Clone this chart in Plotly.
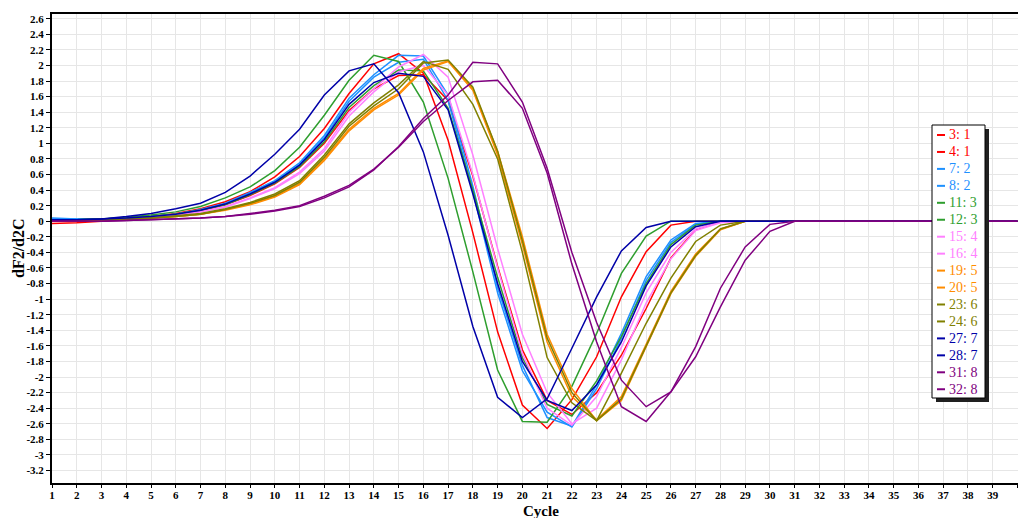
import plotly.graph_objects as go

cycles = [1, 2, 3, 4, 5, 6, 7, 8, 9, 10, 11, 12, 13, 14, 15, 16, 17, 18, 19, 20,
          21, 22, 23, 24, 25, 26, 27, 28, 29, 30, 31, 32, 33, 34, 35, 36, 37, 38, 39, 40]

s3_1 = [-0.03, -0.02, 0.0, 0.03, 0.06, 0.10, 0.16, 0.25, 0.38, 0.57, 0.83, 1.19, 1.64, 2.02, 2.15, 1.90, 1.04, -0.15, -1.42, -2.36,
        -2.66, -2.29, -1.74, -0.97, -0.39, -0.05, 0.0, 0.0, 0.0, 0.0, 0.0, 0.0, 0.0, 0.0, 0.0, 0.0, 0.0, 0.0, 0.0, 0.0]
s4_1 = [0.0, 0.01, 0.02, 0.03, 0.05, 0.08, 0.13, 0.21, 0.33, 0.48, 0.69, 1.00, 1.42, 1.70, 1.87, 1.88, 1.55, 0.58, -0.58, -1.65,
        -2.30, -2.48, -2.20, -1.72, -1.12, -0.47, -0.11, 0.0, 0.0, 0.0, 0.0, 0.0, 0.0, 0.0, 0.0, 0.0, 0.0, 0.0, 0.0, 0.0]
s7_2 = [0.04, 0.03, 0.03, 0.04, 0.06, 0.09, 0.15, 0.23, 0.37, 0.52, 0.75, 1.10, 1.58, 1.88, 2.13, 2.12, 1.62, 0.45, -0.85, -1.85,
        -2.52, -2.63, -2.10, -1.44, -0.71, -0.24, -0.03, 0.0, 0.0, 0.0, 0.0, 0.0, 0.0, 0.0, 0.0, 0.0, 0.0, 0.0, 0.0, 0.0]
s8_2 = [0.03, 0.03, 0.03, 0.04, 0.06, 0.09, 0.14, 0.22, 0.36, 0.51, 0.73, 1.07, 1.54, 1.85, 2.04, 2.08, 1.55, 0.38, -0.92, -1.92,
        -2.45, -2.64, -2.15, -1.50, -0.76, -0.27, -0.04, 0.0, 0.0, 0.0, 0.0, 0.0, 0.0, 0.0, 0.0, 0.0, 0.0, 0.0, 0.0, 0.0]
s11_3 = [0.01, 0.02, 0.03, 0.05, 0.08, 0.12, 0.19, 0.30, 0.44, 0.65, 0.95, 1.36, 1.81, 2.13, 2.05, 1.53, 0.55, -0.65, -1.91, -2.57,
         -2.58, -2.12, -1.44, -0.67, -0.19, 0.0, 0.0, 0.0, 0.0, 0.0, 0.0, 0.0, 0.0, 0.0, 0.0, 0.0, 0.0, 0.0, 0.0, 0.0]
s12_3 = [0.02, 0.02, 0.03, 0.04, 0.06, 0.09, 0.14, 0.21, 0.34, 0.49, 0.70, 1.02, 1.46, 1.74, 1.94, 1.93, 1.45, 0.40, -0.72, -1.75,
         -2.35, -2.50, -2.05, -1.48, -0.80, -0.30, -0.05, 0.0, 0.0, 0.0, 0.0, 0.0, 0.0, 0.0, 0.0, 0.0, 0.0, 0.0, 0.0, 0.0]
s15_4 = [0.02, 0.02, 0.02, 0.03, 0.05, 0.08, 0.12, 0.19, 0.30, 0.43, 0.63, 0.93, 1.40, 1.70, 1.98, 2.14, 1.85, 0.85, -0.35, -1.45,
         -2.20, -2.60, -2.40, -1.78, -1.05, -0.48, -0.12, -0.02, 0.0, 0.0, 0.0, 0.0, 0.0, 0.0, 0.0, 0.0, 0.0, 0.0, 0.0, 0.0]
s16_4 = [0.02, 0.02, 0.02, 0.03, 0.05, 0.08, 0.12, 0.18, 0.29, 0.42, 0.61, 0.90, 1.35, 1.66, 1.92, 2.00, 1.62, 0.60, -0.60, -1.70,
         -2.40, -2.62, -2.25, -1.62, -0.92, -0.40, -0.10, -0.01, 0.0, 0.0, 0.0, 0.0, 0.0, 0.0, 0.0, 0.0, 0.0, 0.0, 0.0, 0.0]
s19_5 = [0.01, 0.01, 0.02, 0.02, 0.04, 0.06, 0.09, 0.15, 0.22, 0.32, 0.48, 0.80, 1.18, 1.45, 1.64, 1.96, 2.06, 1.70, 0.90, -0.20,
         -1.45, -2.15, -2.56, -2.30, -1.61, -0.93, -0.45, -0.11, 0.0, 0.0, 0.0, 0.0, 0.0, 0.0, 0.0, 0.0, 0.0, 0.0, 0.0, 0.0]
s20_5 = [0.01, 0.01, 0.02, 0.02, 0.04, 0.06, 0.09, 0.14, 0.21, 0.31, 0.47, 0.78, 1.16, 1.43, 1.62, 1.94, 2.05, 1.68, 0.85, -0.30,
         -1.55, -2.25, -2.55, -2.25, -1.58, -0.90, -0.42, -0.10, 0.0, 0.0, 0.0, 0.0, 0.0, 0.0, 0.0, 0.0, 0.0, 0.0, 0.0, 0.0]
s23_6 = [0.01, 0.01, 0.02, 0.03, 0.04, 0.07, 0.10, 0.16, 0.24, 0.35, 0.52, 0.85, 1.25, 1.52, 1.75, 2.05, 1.95, 1.50, 0.80, -0.40,
         -1.75, -2.33, -2.56, -1.95, -1.31, -0.73, -0.26, -0.05, 0.0, 0.0, 0.0, 0.0, 0.0, 0.0, 0.0, 0.0, 0.0, 0.0, 0.0, 0.0]
s24_6 = [0.01, 0.01, 0.02, 0.02, 0.04, 0.06, 0.09, 0.15, 0.23, 0.33, 0.50, 0.82, 1.22, 1.48, 1.70, 2.03, 2.07, 1.72, 0.90, -0.25,
         -1.50, -2.20, -2.56, -2.28, -1.60, -0.92, -0.44, -0.10, 0.0, 0.0, 0.0, 0.0, 0.0, 0.0, 0.0, 0.0, 0.0, 0.0, 0.0, 0.0]
s27_7 = [0.01, 0.02, 0.03, 0.06, 0.10, 0.16, 0.23, 0.37, 0.58, 0.86, 1.18, 1.62, 1.93, 2.02, 1.65, 0.89, -0.18, -1.35, -2.26, -2.52,
         -2.28, -1.63, -0.97, -0.38, -0.08, 0.0, 0.0, 0.0, 0.0, 0.0, 0.0, 0.0, 0.0, 0.0, 0.0, 0.0, 0.0, 0.0, 0.0, 0.0]
s28_7 = [0.02, 0.02, 0.03, 0.04, 0.06, 0.09, 0.14, 0.22, 0.35, 0.50, 0.72, 1.05, 1.50, 1.78, 1.90, 1.86, 1.43, 0.35, -0.80, -1.80,
         -2.30, -2.43, -2.10, -1.55, -0.83, -0.33, -0.07, 0.0, 0.0, 0.0, 0.0, 0.0, 0.0, 0.0, 0.0, 0.0, 0.0, 0.0, 0.0, 0.0]
s31_8 = [0.0, 0.0, 0.0, 0.01, 0.02, 0.03, 0.04, 0.06, 0.09, 0.13, 0.19, 0.30, 0.44, 0.66, 0.96, 1.32, 1.62, 2.04, 2.02, 1.53,
         0.68, -0.40, -1.30, -2.04, -2.38, -2.19, -1.61, -0.86, -0.33, -0.04, 0.0, 0.0, 0.0, 0.0, 0.0, 0.0, 0.0, 0.0, 0.0, 0.0]
s32_8 = [0.0, 0.0, 0.0, 0.01, 0.02, 0.03, 0.04, 0.06, 0.10, 0.14, 0.20, 0.32, 0.46, 0.67, 0.95, 1.28, 1.55, 1.79, 1.81, 1.45,
         0.62, -0.55, -1.55, -2.38, -2.57, -2.19, -1.74, -1.10, -0.50, -0.13, 0.0, 0.0, 0.0, 0.0, 0.0, 0.0, 0.0, 0.0, 0.0, 0.0]

series_names = ["3: 1", "4: 1", "7: 2", "8: 2", "11: 3", "12: 3", "15: 4", "16: 4",
                "19: 5", "20: 5", "23: 6", "24: 6", "27: 7", "28: 7", "31: 8", "32: 8"]
series_values = [s3_1, s4_1, s7_2, s8_2, s11_3, s12_3, s15_4, s16_4,
                 s19_5, s20_5, s23_6, s24_6, s27_7, s28_7, s31_8, s32_8]
series_colors = ["#ff0000", "#ff0000", "#1e90ff", "#1e90ff", "#2e9e2e", "#2e9e2e", "#ff80ff", "#ff80ff",
                 "#ff8c00", "#ff8c00", "#808000", "#808000", "#0000a8", "#0000a8", "#800080", "#800080"]

y_tick_vals = [-3.2, -3.0, -2.8, -2.6, -2.4, -2.2, -2.0, -1.8, -1.6, -1.4, -1.2, -1.0, -0.8, -0.6, -0.4, -0.2,
               0.0, 0.2, 0.4, 0.6, 0.8, 1.0, 1.2, 1.4, 1.6, 1.8, 2.0, 2.2, 2.4, 2.6]
y_tick_text = ["-3.2", "-3", "-2.8", "-2.6", "-2.4", "-2.2", "-2", "-1.8", "-1.6", "-1.4", "-1.2", "-1", "-0.8", "-0.6",
               "-0.4", "-0.2", "0", "0.2", "0.4", "0.6", "0.8", "1", "1.2", "1.4", "1.6", "1.8", "2", "2.2", "2.4", "2.6"]

SERIF = "Liberation Serif, Times New Roman, serif"

W, H = 1018, 518
ML, MR, MT, MB = 52, 0, 14, 35
PW, PH = W - ML - MR, H - MT - MB


def px_x(px):
    return (px - ML) / PW


def px_y(py):
    return (H - MB - py) / PH


fig = go.Figure()
for name, vals, color in zip(series_names, series_values, series_colors):
    fig.add_trace(go.Scatter(x=cycles, y=vals, mode="lines", name=name,
                             line=dict(color=color, width=1.5), showlegend=False,
                             hoverinfo="x+y+name"))

shapes = []
annotations = []

# custom legend box with shadow
shapes.append(dict(type="rect", xref="paper", yref="paper", layer="above",
                   x0=px_x(936), x1=px_x(989), y0=px_y(402), y1=px_y(129),
                   fillcolor="#202020", line=dict(width=0)))
shapes.append(dict(type="rect", xref="paper", yref="paper", layer="above",
                   x0=px_x(932), x1=px_x(985), y0=px_y(398), y1=px_y(125),
                   fillcolor="white", line=dict(color="black", width=1)))
for i, (name, color) in enumerate(zip(series_names, series_colors)):
    yc = 135 + 16.95 * i
    shapes.append(dict(type="line", xref="paper", yref="paper", layer="above",
                       x0=px_x(937), x1=px_x(945), y0=px_y(yc), y1=px_y(yc),
                       line=dict(color=color, width=2)))
    annotations.append(dict(text=name, xref="paper", yref="paper", x=px_x(947), y=px_y(yc),
                            xanchor="left", yanchor="middle", showarrow=False,
                            font=dict(family=SERIF, size=14, color=color)))

annotations.append(dict(text="<b>dF2/d2C</b>", xref="paper", yref="paper", x=px_x(18), y=px_y(248),
                        xanchor="center", yanchor="middle", textangle=-90, showarrow=False,
                        font=dict(family=SERIF, size=16, color="black")))
annotations.append(dict(text="<b>Cycle</b>", xref="paper", yref="paper", x=px_x(541), y=px_y(520),
                        xanchor="center", yanchor="bottom", showarrow=False, borderpad=0,
                        font=dict(family=SERIF, size=15, color="black")))

fig.update_layout(
    width=W, height=H,
    margin=dict(l=ML, r=MR, t=MT, b=MB, autoexpand=False),
    paper_bgcolor="white", plot_bgcolor="white",
    shapes=shapes, annotations=annotations,
    xaxis=dict(range=[1, 40.02], tickmode="array", tickvals=cycles, ticktext=[str(c) for c in cycles],
               showgrid=True, gridcolor="#e6e6e6", gridwidth=1, zeroline=False,
               showline=True, linecolor="black", linewidth=2, mirror=True,
               ticks="outside", ticklen=3, tickcolor="black", ticklabelstandoff=-2,
               tickfont=dict(family=SERIF, size=11, color="black", weight="bold")),
    yaxis=dict(range=[-3.36, 2.66], tickmode="array", tickvals=y_tick_vals, ticktext=y_tick_text,
               showgrid=True, gridcolor="#e6e6e6", gridwidth=1, zeroline=False,
               showline=True, linecolor="black", linewidth=2, mirror=False,
               ticks="outside", ticklen=4, tickcolor="black",
               tickfont=dict(family=SERIF, size=11, color="black", weight="bold")),
    hovermode="closest",
)

fig.write_html("out.html")
